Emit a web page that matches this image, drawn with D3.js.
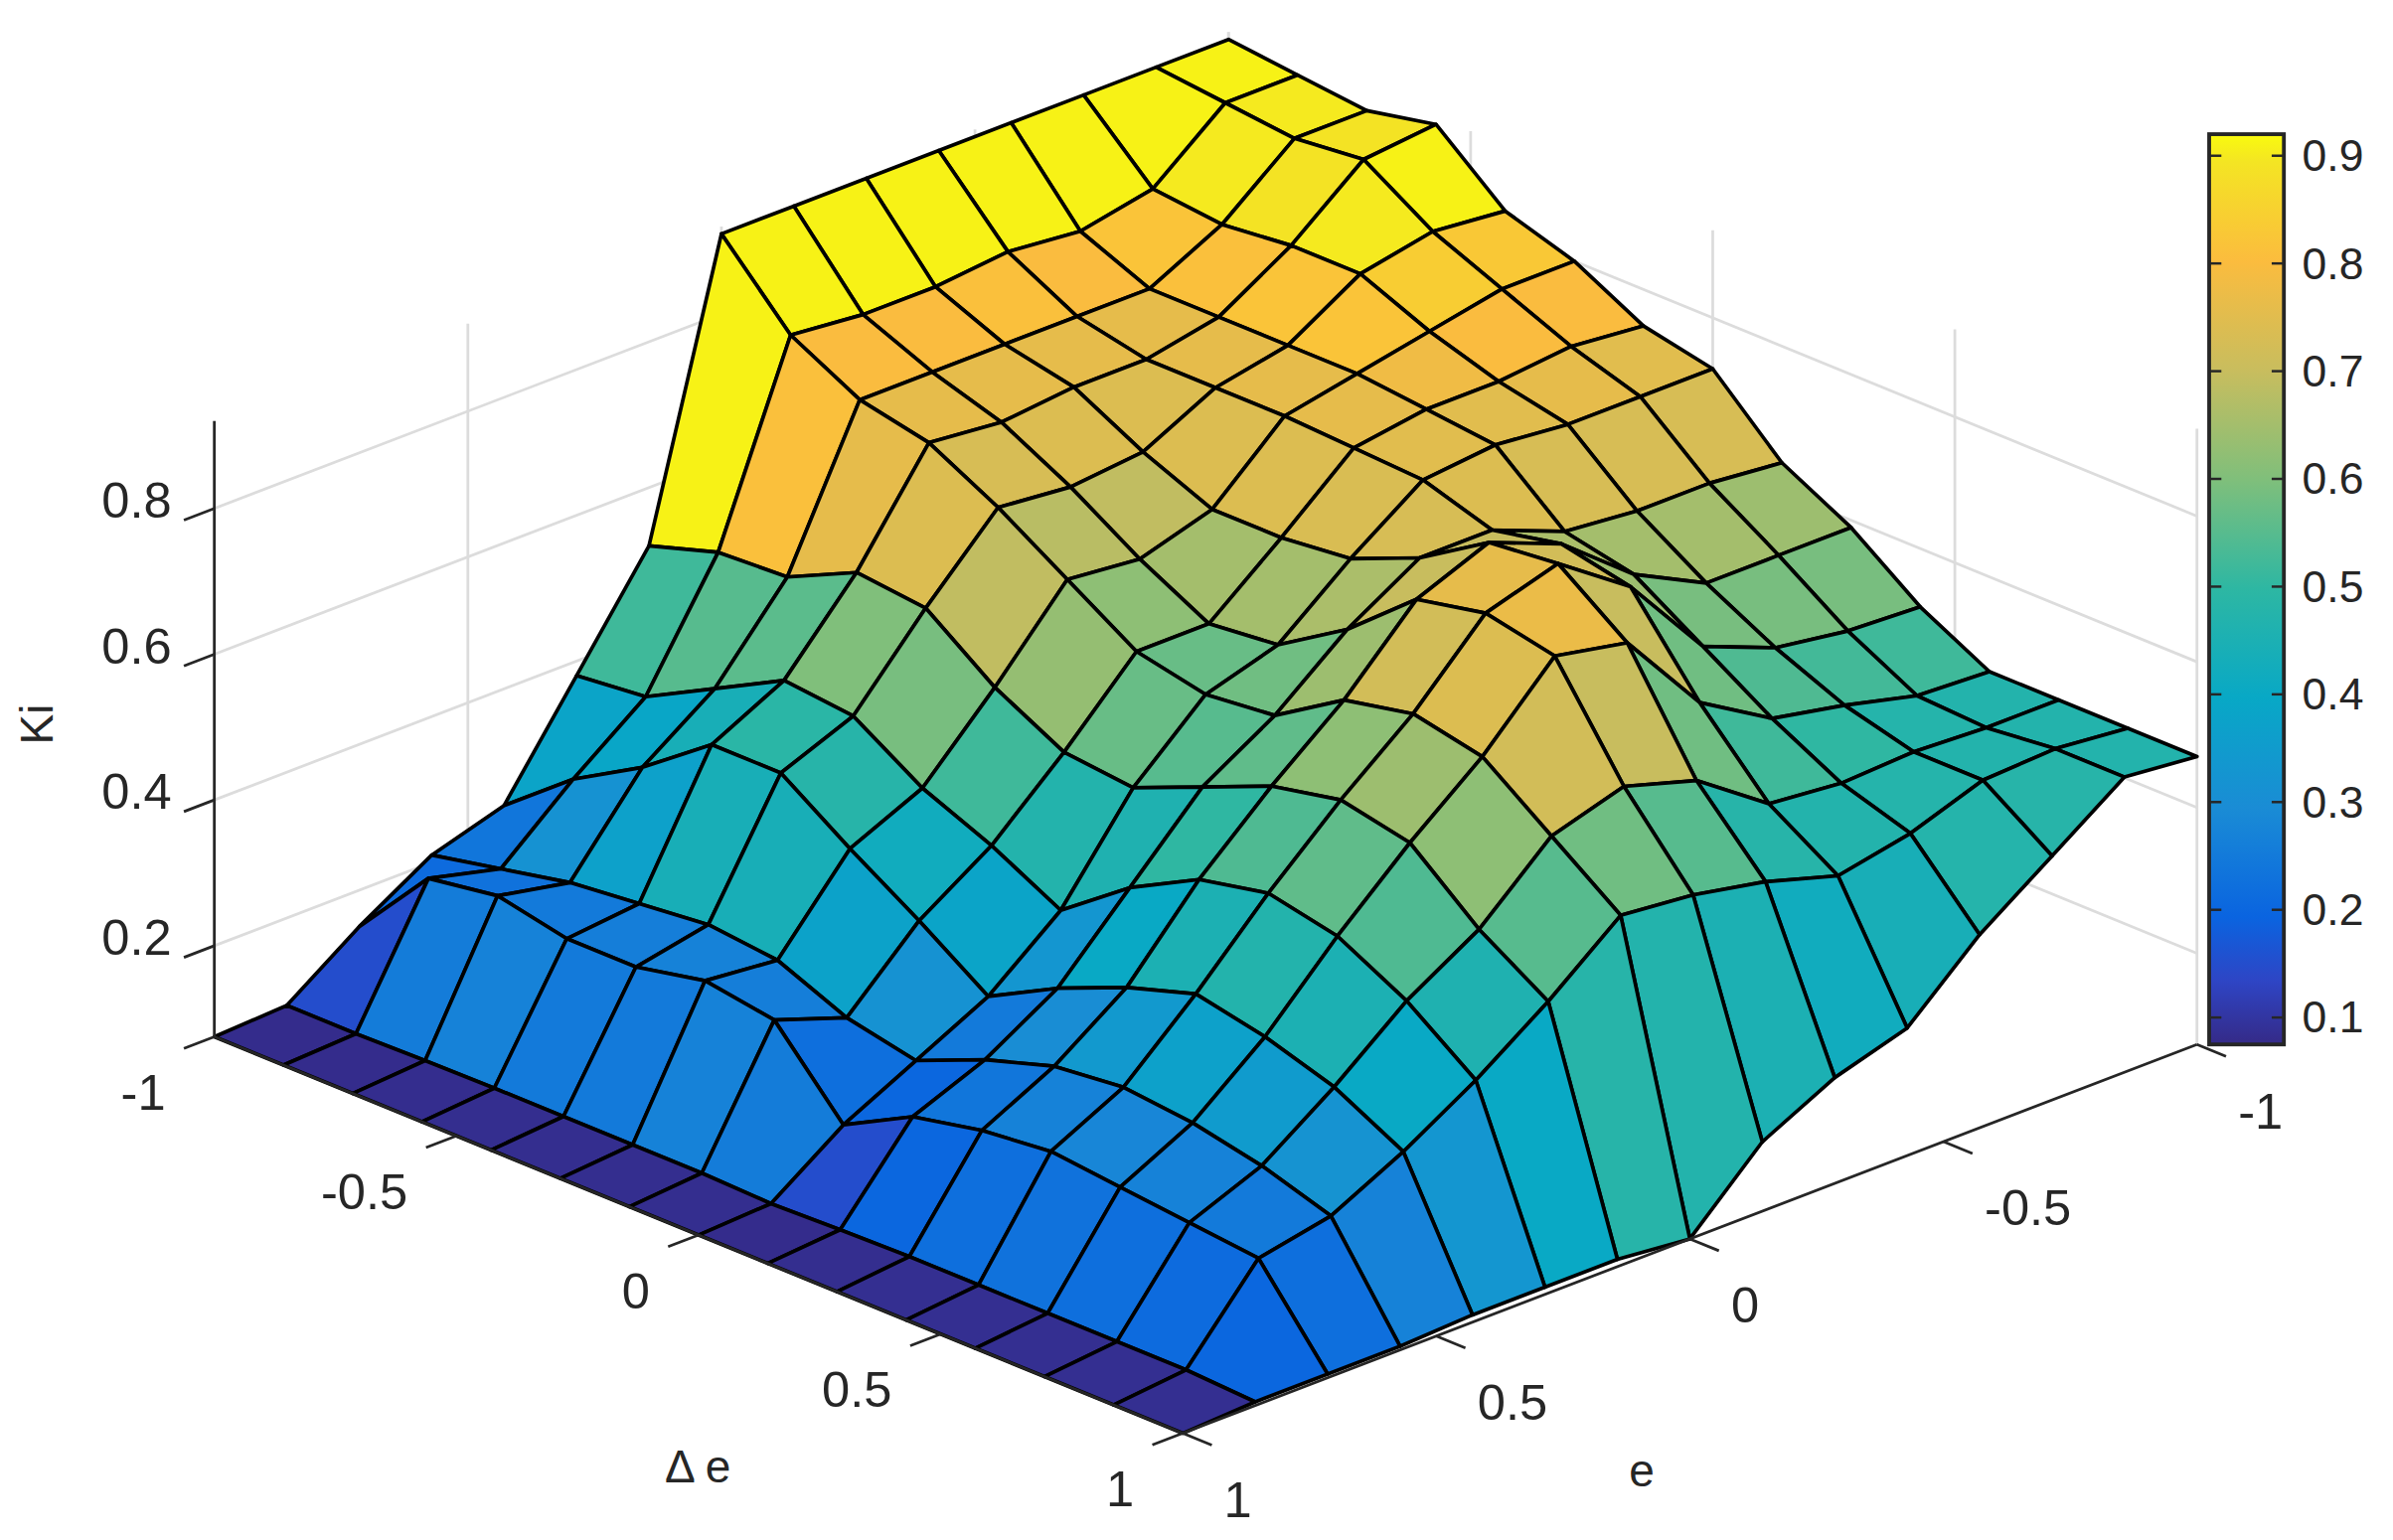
<!DOCTYPE html>
<html>
<head>
<meta charset="utf-8">
<script src="https://cdn.jsdelivr.net/npm/d3@7"></script>
<style>
  html, body { margin: 0; padding: 0; background: #fff; }
  svg { display: block; }
  text { font-family: "Liberation Sans", Arial, sans-serif; fill: #262626; }
</style>
</head>
<body>
<svg id="chart" width="2408" height="1550" viewBox="0 0 1568 1010"></svg>
<script>
// grid: 15 x 15 points, e and Δe from -1 to 1
const eValues = d3.range(15).map(k => -1 + k * 2 / 14);
const deValues = d3.range(15).map(k => -1 + k * 2 / 14);

// Ki values, one row per e value (e = -1 ... 1), columns Δe = -1 ... 1
const kiRows = [
  [0.91, 0.90, 0.89, 0.91, 0.83, 0.80, 0.75, 0.73, 0.64, 0.59, 0.52, 0.47, 0.47, 0.47, 0.47],
  [0.91, 0.90, 0.89, 0.90, 0.84, 0.80, 0.76, 0.73, 0.65, 0.59, 0.525, 0.475, 0.47, 0.48, 0.48],
  [0.91, 0.82, 0.81, 0.82, 0.82, 0.78, 0.75, 0.73, 0.65, 0.59, 0.54, 0.50, 0.475, 0.475, 0.41],
  [0.91, 0.80, 0.76, 0.76, 0.76, 0.76, 0.75, 0.74, 0.66, 0.64, 0.58, 0.52, 0.47, 0.44, 0.34],
  [0.91, 0.81, 0.76, 0.74, 0.74, 0.74, 0.735, 0.73, 0.70, 0.72, 0.70, 0.58, 0.48, 0.42, 0.25],
  [0.91, 0.80, 0.76, 0.74, 0.69, 0.65, 0.65, 0.66, 0.70, 0.76, 0.77, 0.70, 0.55, 0.45, 0.22],
  [0.91, 0.80, 0.76, 0.73, 0.68, 0.62, 0.57, 0.58, 0.64, 0.72, 0.74, 0.72, 0.58, 0.47, 0.17],
  [0.91, 0.81, 0.76, 0.74, 0.69, 0.63, 0.57, 0.55, 0.56, 0.62, 0.64, 0.62, 0.55, 0.48, 0.075],
  [0.52, 0.55, 0.555, 0.60, 0.59, 0.52, 0.47, 0.46, 0.50, 0.54, 0.56, 0.54, 0.46, 0.40, 0.085],
  [0.38, 0.39, 0.44, 0.49, 0.48, 0.42, 0.38, 0.33, 0.40, 0.45, 0.47, 0.45, 0.40, 0.33, 0.085],
  [0.24, 0.315, 0.37, 0.44, 0.44, 0.375, 0.315, 0.25, 0.30, 0.34, 0.37, 0.35, 0.32, 0.27, 0.085],
  [0.21, 0.23, 0.25, 0.26, 0.27, 0.26, 0.22, 0.20, 0.24, 0.27, 0.28, 0.27, 0.25, 0.22, 0.08],
  [0.15, 0.255, 0.27, 0.25, 0.25, 0.27, 0.255, 0.15, 0.20, 0.22, 0.23, 0.22, 0.21, 0.20, 0.08],
  [0.08, 0.08, 0.082, 0.083, 0.083, 0.083, 0.083, 0.08, 0.083, 0.085, 0.085, 0.085, 0.085, 0.085, 0.08],
  [0.075, 0.075, 0.075, 0.075, 0.075, 0.075, 0.075, 0.075, 0.075, 0.075, 0.075, 0.075, 0.075, 0.075, 0.075]
];

const zTicks = [0.2, 0.4, 0.6, 0.8];
const deTicks = [-1, -0.5, 0, 0.5, 1];
const eTicks = [-1, -0.5, 0, 0.5, 1];
const cbTicks = [0.1, 0.2, 0.3, 0.4, 0.5, 0.6, 0.7, 0.8, 0.9];
const zDomain = [0.075, 0.92];

// parula-like colour ramp
const parulaStops = [
  [0, "#352a87"], [0.07, "#2e45c5"], [0.14, "#0a64e0"], [0.26, "#1a8cd5"],
  [0.38, "#08a8c6"], [0.5, "#2db7a3"], [0.62, "#7fbf7b"], [0.74, "#c8bd5e"],
  [0.86, "#fbbc3e"], [0.97, "#f4e523"], [1, "#f9fb0e"]
];

const svg = d3.select("#chart");

// projection: floor corners (display units)
const back = [805, 425];             // Δe=-1, e=-1
const deStep = [635 / 2, 260 / 2];   // per unit of Δe
const eStep = [-665 / 2, 255 / 2];   // per unit of e
const zScale = d3.scaleLinear().domain(zDomain).range([0, 478 * (zDomain[1] - zDomain[0])]);

function project(de, e, z) {
  const a = de + 1, b = e + 1;
  return [back[0] + a * deStep[0] + b * eStep[0],
          back[1] + a * deStep[1] + b * eStep[1] - zScale(z)];
}

const colorT = d3.scaleLinear().domain(zDomain).range([0, 1]).clamp(true);
const ramp = d3.scaleLinear()
  .domain(parulaStops.map(d => d[0]))
  .range(parulaStops.map(d => d[1]))
  .interpolate(d3.interpolateRgb);
const colorOf = z => ramp(colorT(z));

// grid walls
const grid = svg.append("g").attr("stroke", "#dcdcdc").attr("stroke-width", 1.8).attr("fill", "none");
zTicks.forEach(z => {
  grid.append("path").attr("d", d3.line()([project(-1, 1, z), project(-1, -1, z), project(1, -1, z)]));
});
eTicks.forEach(e => {
  grid.append("path").attr("d", d3.line()([project(-1, e, zDomain[0]), project(-1, e, zDomain[1])]));
});
deTicks.forEach(de => {
  grid.append("path").attr("d", d3.line()([project(de, -1, zDomain[0]), project(de, -1, zDomain[1])]));
});

// surface cells, painted back to front
const cells = [];
for (let j = 0; j < 14; j++) {
  for (let i = 0; i < 14; i++) {
    cells.push({
      i, j,
      z: kiRows[j][i],
      pts: [
        project(deValues[i], eValues[j], kiRows[j][i]),
        project(deValues[i + 1], eValues[j], kiRows[j][i + 1]),
        project(deValues[i + 1], eValues[j + 1], kiRows[j + 1][i + 1]),
        project(deValues[i], eValues[j + 1], kiRows[j + 1][i])
      ]
    });
  }
}
cells.sort((a, b) => (a.i + a.j) - (b.i + b.j) || (a.i - b.i));

svg.append("g").selectAll("path").data(cells).join("path")
  .attr("d", d => d3.line()(d.pts) + "Z")
  .attr("fill", d => colorOf(d.z))
  .attr("stroke", "#000")
  .attr("stroke-width", 2.4)
  .attr("stroke-linejoin", "round");

// axes
const ax = svg.append("g").attr("stroke", "#262626").attr("stroke-width", 1.8).attr("fill", "none");
ax.append("path").attr("d", d3.line()([project(-1, 1, zDomain[0]), project(1, 1, zDomain[0]), project(1, -1, zDomain[0])]));
ax.append("path").attr("d", d3.line()([project(-1, 1, zDomain[0]), project(-1, 1, zDomain[1])]));

const tickLen = 0.06;
deTicks.forEach(de => {
  const p = project(de, 1, zDomain[0]), q = project(de, 1 + tickLen, zDomain[0]);
  ax.append("path").attr("d", d3.line()([p, q]));
});
eTicks.forEach(e => {
  const p = project(1, e, zDomain[0]), q = project(1 + tickLen, e, zDomain[0]);
  ax.append("path").attr("d", d3.line()([p, q]));
});
zTicks.forEach(z => {
  const p = project(-1, 1, z), q = project(-1, 1 + tickLen, z);
  ax.append("path").attr("d", d3.line()([p, q]));
});

const fs = 33;
const labels = svg.append("g").attr("font-size", fs);
zTicks.forEach(z => {
  const p = project(-1, 1, z);
  labels.append("text").attr("x", p[0] - 28).attr("y", p[1] + 6).attr("text-anchor", "end").text(z);
});
deTicks.forEach(de => {
  const p = project(de, 1, zDomain[0]);
  labels.append("text").attr("x", p[0] - 32).attr("y", p[1] + 48).attr("text-anchor", "end").text(de);
});
eTicks.forEach(e => {
  const p = project(1, e, zDomain[0]);
  labels.append("text").attr("x", p[0] + 27).attr("y", p[1] + 55).attr("text-anchor", "start").text(e);
});
labels.append("text").attr("x", 457).attr("y", 972).attr("text-anchor", "middle").attr("font-size", 30).text("\u0394 e");
labels.append("text").attr("x", 1076).attr("y", 975).attr("text-anchor", "middle").attr("font-size", 30).text("e");
labels.append("text").attr("transform", "translate(34,475) rotate(-90)").attr("text-anchor", "middle").attr("font-size", 30).text("Ki");

// colour bar
const cbX = 1448, cbW = 49, cbTop = 88, cbBottom = 685;
const cbScale = d3.scaleLinear().domain(zDomain).range([cbBottom, cbTop]);
const grad = svg.append("defs").append("linearGradient").attr("id", "cb")
  .attr("x1", 0).attr("y1", 1).attr("x2", 0).attr("y2", 0);
grad.selectAll("stop").data(parulaStops).join("stop")
  .attr("offset", d => d[0]).attr("stop-color", d => d[1]);
svg.append("rect").attr("x", cbX).attr("y", cbTop).attr("width", cbW).attr("height", cbBottom - cbTop)
  .attr("fill", "url(#cb)").attr("stroke", "#262626").attr("stroke-width", 2.5);
const cbg = svg.append("g");
cbTicks.forEach(t => {
  const y = cbScale(t);
  cbg.append("line").attr("x1", cbX + cbW - 8).attr("x2", cbX + cbW).attr("y1", y).attr("y2", y)
    .attr("stroke", "#262626").attr("stroke-width", 1.6);
  cbg.append("line").attr("x1", cbX).attr("x2", cbX + 8).attr("y1", y).attr("y2", y)
    .attr("stroke", "#262626").attr("stroke-width", 1.6);
  cbg.append("text").attr("x", cbX + cbW + 12).attr("y", y + 10).attr("font-size", 29).text(t);
});
</script>
</body>
</html>
